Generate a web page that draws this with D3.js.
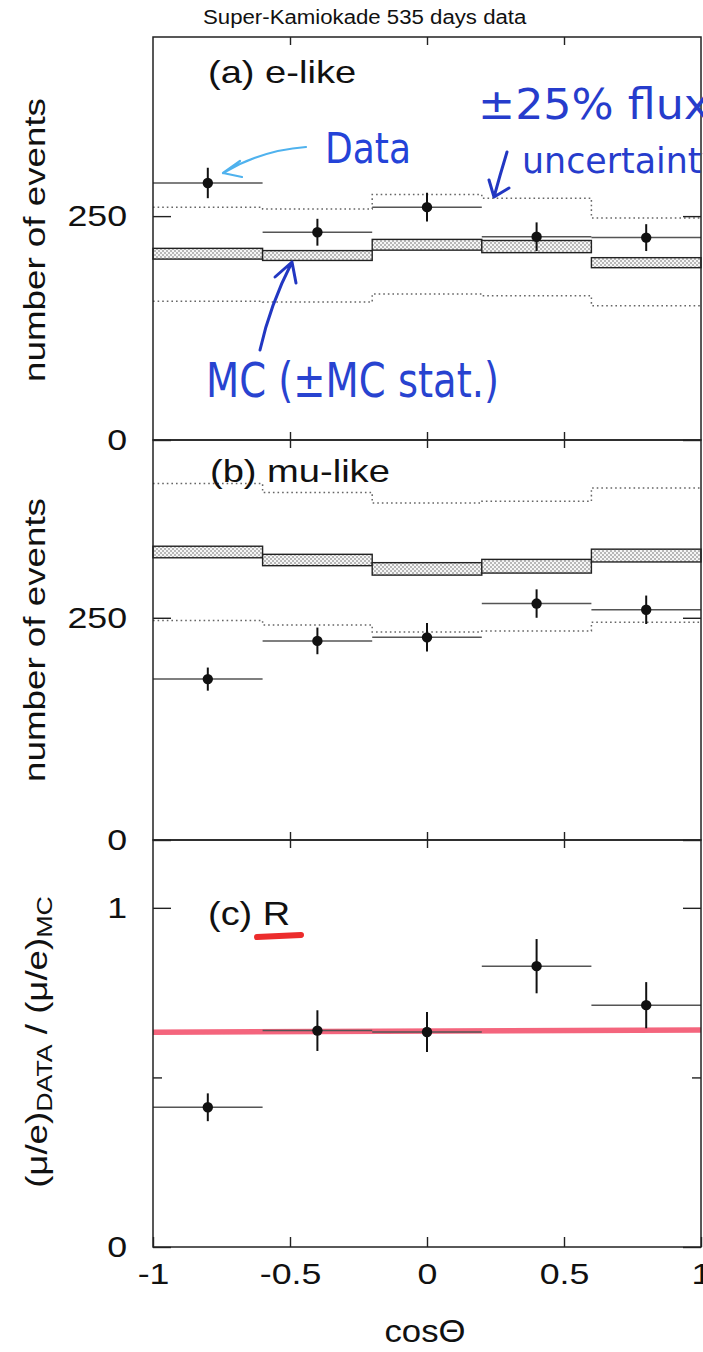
<!DOCTYPE html>
<html>
<head>
<meta charset="utf-8">
<script src="https://cdn.jsdelivr.net/npm/d3@7"></script>
<style>
  body { margin: 0; background: #fff; }
  svg { display: block; }
</style>
</head>
<body>
<svg id="chart" width="703" height="1352"></svg>
<script>
// ---- zenith-angle bins ----
const binEdges = [-1, -0.6, -0.2, 0.2, 0.6, 1];
const binCenters = [-0.8, -0.4, 0, 0.4, 0.8];

// ---- (a) e-like ----
const eData = [287, 232, 260, 227, 226];
const eDataErr = [17, 15, 16, 16, 15];
const eMC = [208, 206, 218, 216, 198];
const eMCErr = [6, 5.5, 6, 6.8, 5.6];
const eFluxHigh = [260, 258, 274, 270, 248];
const eFluxLow = [155, 154, 163, 161, 150];

// ---- (b) mu-like ----
const muData = [181, 224, 228, 266, 259];
const muDataErr = [13, 15, 16, 16, 16];
const muMC = [324, 315, 305, 308, 320];
const muMCErr = [6.5, 6.4, 7, 7.7, 7.2];
const muFluxHigh = [401, 391, 379, 381, 396];
const muFluxLow = [247, 242, 234, 235, 245];

// ---- (c) double ratio R ----
const ratio = [0.412, 0.638, 0.634, 0.828, 0.713];
const ratioErr = [0.041, 0.060, 0.059, 0.080, 0.068];
const ratioLineX = [-1, 1];
const ratioLineY = [0.633, 0.640];

// ---- ticks ----
const xTicks = [-1, -0.5, 0, 0.5, 1];
const xTickLabels = ["-1", "-0.5", "0", "0.5", "1"];
const xInnerTicks = [-0.5, 0, 0.5];
const countTicks = [0, 250];
const countTickLabels = ["0", "250"];
const ratioMajorTicks = [0, 1];
const ratioTickLabels = ["0", "1"];
const ratioMinorTicks = [0.5];

// ---- layout ----
const plotLeft = 153, plotRight = 701;
const FONT = "'Liberation Sans', Arial, Helvetica, sans-serif";
const HAND = "'DejaVu Sans', sans-serif";
const WIDEN = 1.19;
const INK = "#222";

const svg = d3.select("#chart");
const x = d3.scaleLinear().domain([-1, 1]).range([plotLeft, plotRight]);

const yA = d3.scaleLinear().domain([0, 450]).range([440, 37]);
const yB = d3.scaleLinear().domain([0, 450]).range([840, 440]);
const yC = d3.scaleLinear().domain([0, 1.2]).range([1247, 840]);

// stipple pattern for the MC statistical band
const defs = svg.append("defs");
const pat = defs.append("pattern").attr("id", "stipple")
  .attr("patternUnits", "userSpaceOnUse").attr("width", 4).attr("height", 4);
pat.append("rect").attr("width", 4).attr("height", 4).attr("fill", "#f6f6f6");
pat.append("circle").attr("cx", 1).attr("cy", 1).attr("r", 0.8).attr("fill", "#6a6a6a");
pat.append("circle").attr("cx", 3).attr("cy", 3).attr("r", 0.8).attr("fill", "#6a6a6a");

function widen(sel, k) {
  sel.each(function () {
    const w = this.getComputedTextLength();
    d3.select(this).attr("textLength", w * k).attr("lengthAdjust", "spacingAndGlyphs");
  });
}

function stepPoints(vals) {
  const pts = [];
  vals.forEach((v, i) => { pts.push([binEdges[i], v]); pts.push([binEdges[i + 1], v]); });
  return pts;
}

function styleAxis(g) {
  g.select(".domain").remove();
  g.selectAll(".tick line").attr("stroke", INK).attr("stroke-width", 1.4);
  g.selectAll(".tick text").attr("fill", "#111")
    .attr("font-family", FONT).attr("font-size", 30);
}

function frameAndXTicks(y, showLabels) {
  const [y0, y1] = y.range(); // bottom, top
  const g = svg.append("g");
  // inward x ticks on top edge
  g.append("g").attr("transform", `translate(0,${y1})`)
    .call(d3.axisTop(x).tickValues(xInnerTicks).tickSize(-8).tickFormat(""))
    .call(styleAxis);
  // inward x ticks on bottom edge
  const bottom = g.append("g").attr("transform", `translate(0,${y0})`);
  if (showLabels) {
    bottom.call(d3.axisBottom(x).tickValues(xTicks).tickSize(-10).tickPadding(16)
      .tickFormat((d, i) => xTickLabels[i]))
      .call(styleAxis);
    bottom.selectAll(".tick text").call(widen, WIDEN);
  } else {
    bottom.call(d3.axisBottom(x).tickValues(xInnerTicks).tickSize(-8).tickFormat(""))
      .call(styleAxis);
  }
  g.append("rect").attr("x", plotLeft).attr("y", y1)
    .attr("width", plotRight - plotLeft).attr("height", y0 - y1)
    .attr("fill", "none").attr("stroke", INK).attr("stroke-width", 1.5);
}

function yAxes(y, majors, labels, minors) {
  const left = svg.append("g").attr("transform", `translate(${plotLeft},0)`)
    .call(d3.axisLeft(y).tickValues(majors).tickSize(-18).tickPadding(26)
      .tickFormat((d, i) => labels[i]))
    .call(styleAxis);
  left.selectAll(".tick text").call(widen, WIDEN);
  svg.append("g").attr("transform", `translate(${plotRight},0)`)
    .call(d3.axisRight(y).tickValues(majors).tickSize(-18).tickFormat(""))
    .call(styleAxis);
  if (minors) {
    svg.append("g").attr("transform", `translate(${plotLeft},0)`)
      .call(d3.axisLeft(y).tickValues(minors).tickSize(-9).tickFormat(""))
      .call(styleAxis);
    svg.append("g").attr("transform", `translate(${plotRight},0)`)
      .call(d3.axisRight(y).tickValues(minors).tickSize(-9).tickFormat(""))
      .call(styleAxis);
  }
}

function dataPoints(y, vals, errs) {
  const g = svg.append("g");
  g.selectAll("line.h").data(vals).join("line").attr("class", "h")
    .attr("x1", (d, i) => x(binEdges[i])).attr("x2", (d, i) => x(binEdges[i + 1]))
    .attr("y1", d => y(d)).attr("y2", d => y(d))
    .attr("stroke", "#555").attr("stroke-width", 1.5);
  g.selectAll("line.v").data(vals).join("line").attr("class", "v")
    .attr("x1", (d, i) => x(binCenters[i])).attr("x2", (d, i) => x(binCenters[i]))
    .attr("y1", (d, i) => y(d - errs[i])).attr("y2", (d, i) => y(d + errs[i]))
    .attr("stroke", "#111").attr("stroke-width", 2);
  g.selectAll("circle").data(vals).join("circle")
    .attr("cx", (d, i) => x(binCenters[i])).attr("cy", d => y(d))
    .attr("r", 5.2).attr("fill", "#111");
}

function countPanel(y, data, dataErr, mc, mcErr, hi, lo) {
  const line = d3.line().x(d => x(d[0])).y(d => y(d[1]));
  [hi, lo].forEach(vals => {
    svg.append("path").attr("d", line(stepPoints(vals)))
      .attr("fill", "none").attr("stroke", "#666").attr("stroke-width", 1.5)
      .attr("stroke-dasharray", "1.6,3");
  });
  svg.append("g").selectAll("rect").data(mc).join("rect")
    .attr("x", (d, i) => x(binEdges[i]))
    .attr("width", (d, i) => x(binEdges[i + 1]) - x(binEdges[i]))
    .attr("y", (d, i) => y(d + mcErr[i]))
    .attr("height", (d, i) => y(d - mcErr[i]) - y(d + mcErr[i]))
    .attr("fill", "url(#stipple)").attr("stroke", INK).attr("stroke-width", 1.4);
  dataPoints(y, data, dataErr);
}

// ---- panels ----
countPanel(yA, eData, eDataErr, eMC, eMCErr, eFluxHigh, eFluxLow);
countPanel(yB, muData, muDataErr, muMC, muMCErr, muFluxHigh, muFluxLow);

// hand-drawn fit line through the ratio
svg.append("line")
  .attr("x1", x(ratioLineX[0])).attr("x2", x(ratioLineX[1]))
  .attr("y1", yC(ratioLineY[0])).attr("y2", yC(ratioLineY[1]))
  .attr("stroke", "#f24a66").attr("stroke-width", 5.5).attr("stroke-opacity", 0.85);
dataPoints(yC, ratio, ratioErr);

frameAndXTicks(yA, false);
frameAndXTicks(yB, false);
frameAndXTicks(yC, true);
yAxes(yA, countTicks, countTickLabels);
yAxes(yB, countTicks, countTickLabels);
yAxes(yC, ratioMajorTicks, ratioTickLabels, ratioMinorTicks);

// ---- printed texts ----
function printed(txt, px, py, size, k, rotate) {
  const t = svg.append("text")
    .attr("font-family", FONT).attr("font-size", size).attr("fill", "#111")
    .attr("transform", `translate(${px},${py})` + (rotate ? ` rotate(${rotate})` : ""))
    .text(txt);
  if (rotate) t.attr("text-anchor", "middle");
  t.call(widen, k);
  return t;
}

printed("Super-Kamiokade 535 days data", 203, 24, 20, 1.11);
printed("(a) e-like", 208, 83, 32, WIDEN);
printed("(b) mu-like", 210, 482, 32, WIDEN);
printed("(c) R", 208, 925, 33, 1.15);
printed("number of events", 45, 240, 30, 1.225, -90);
printed("number of events", 45, 640, 30, 1.225, -90);

// ratio axis title with subscripts
const rt = svg.append("text")
  .attr("font-family", FONT).attr("font-size", 30).attr("fill", "#111")
  .attr("text-anchor", "middle")
  .attr("transform", "translate(47,1042) rotate(-90) scale(1.22,1)");
rt.append("tspan").text("(μ/e)");
rt.append("tspan").attr("font-size", 22).attr("dy", 5).text("DATA");
rt.append("tspan").attr("dy", -5).text(" / (μ/e)");
rt.append("tspan").attr("font-size", 22).attr("dy", 5).text("MC");

// x axis title
svg.append("text").attr("font-family", FONT).attr("font-size", 31).attr("fill", "#111")
  .attr("text-anchor", "middle").attr("x", 425).attr("y", 1342)
  .text("cosΘ").call(widen, 1.12);

// ---- hand-written notes ----
function hand(txt, px, py, size, len, color) {
  return svg.append("text").attr("font-family", HAND).attr("font-size", size)
    .attr("fill", color).attr("x", px).attr("y", py)
    .attr("textLength", len).attr("lengthAdjust", "spacingAndGlyphs").text(txt);
}
function stroke(d, color, w) {
  svg.append("path").attr("d", d).attr("fill", "none").attr("stroke", color)
    .attr("stroke-width", w).attr("stroke-linecap", "round").attr("stroke-linejoin", "round");
}

hand("Data", 325, 163, 42, 86, "#2443d8");
stroke("M306,147 Q262,150 223,173 M223,173 L240,161 M223,173 L242,177", "#4fb2ee", 2.2);

hand("±25% flux", 478, 119, 42, 232, "#263ccc");
hand("uncertainty", 522, 173, 36, 200, "#263ccc");
stroke("M507,152 Q500,175 494,197 M494,197 L489,180 M494,197 L509,188", "#2237c2", 3);

hand("MC (±MC stat.)", 206, 397, 48, 293, "#2843d0");
stroke("M260,350 Q270,305 292,262 M292,262 L275,277 M292,262 L296,283", "#2237c2", 3);

// red underline under R
stroke("M257,937 L301,935", "#ec2c2c", 6);
</script>
</body>
</html>
